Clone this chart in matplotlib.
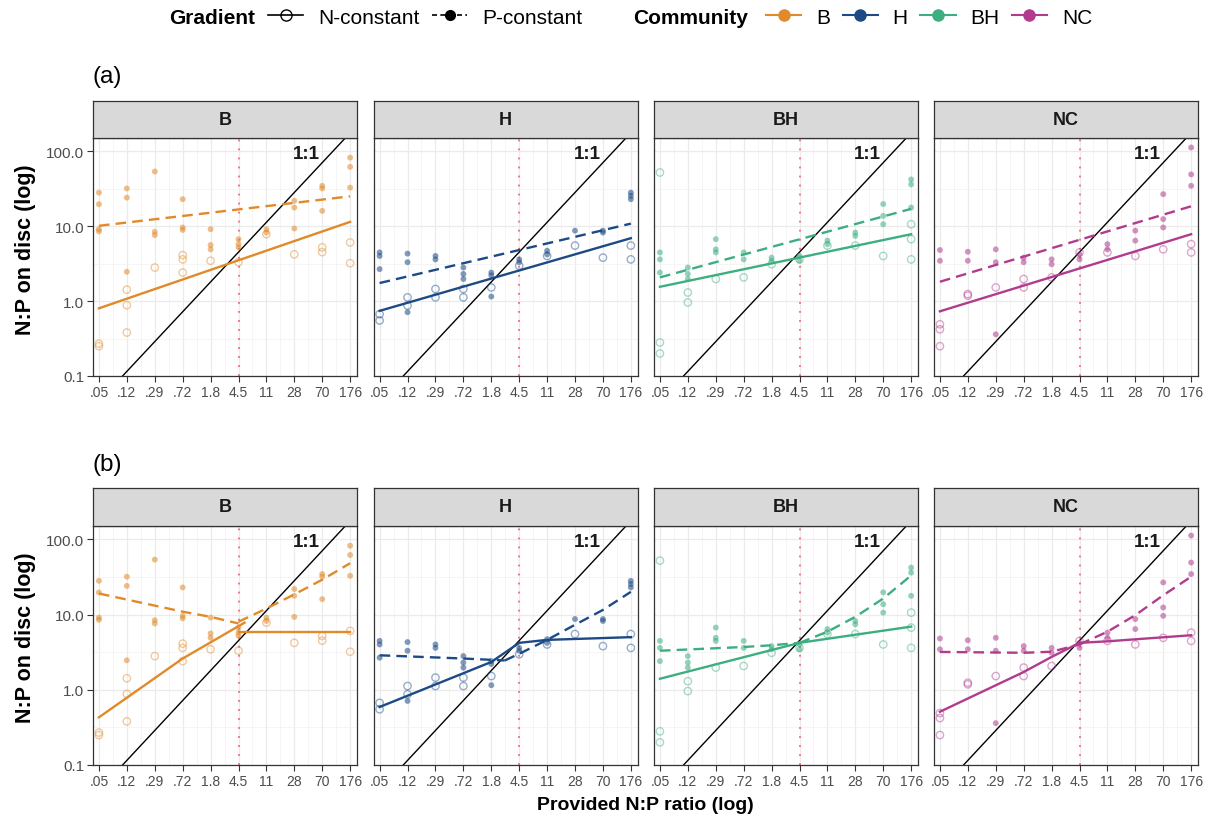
import numpy as np
import matplotlib.pyplot as plt
from matplotlib.lines import Line2D
from matplotlib.colors import to_rgba

plt.rcParams['font.family'] = ['Liberation Sans', 'DejaVu Sans']

# provided N:P ratio (gradient levels) and their tick labels
ratio = [0.046, 0.115, 0.288, 0.72, 1.8, 4.5, 11.25, 28.1, 70.3, 175.8]
ratio_labels = ['.05', '.12', '.29', '.72', '1.8', '4.5', '11', '28', '70', '176']

communities = ['B', 'H', 'BH', 'NC']
colors = ['#E08A2A', '#1C4A85', '#3DAE80', '#B13C8E']

# N:P on disc, replicates per gradient level
B_ncon = [[0.25, 0.27], [1.42, 0.88, 0.38], [2.8], [4.1, 3.6, 2.4], [3.45], [3.3],
          [7.8], [4.2], [5.2, 4.5], [6.05, 3.2]]
B_pcon = [[28, 19.6, 9.1, 8.5], [31.8, 24, 2.46], [53.6, 8.4, 7.6], [22.9, 9.6, 8.9],
          [9.1, 5.6, 4.9], [6.7, 5.75, 5.2], [9.1, 8.2], [21.8, 17.7, 9.3],
          [34.5, 31.8, 16], [82, 61.8, 32.7]]
H_ncon = [[0.67, 0.55], [1.12, 0.87], [1.45, 1.12], [1.45, 1.12], [1.52], [2.96],
          [4.0], [5.5], [3.8], [5.5, 3.6]]
H_pcon = [[4.46, 4.0, 2.67], [4.3, 3.3, 0.71], [4.0, 3.6], [2.8, 2.3, 1.97],
          [2.4, 2.2, 1.15], [3.6, 3.3], [4.7, 4.2], [8.7], [8.7, 8.2], [28, 25.4, 22.9]]
BH_ncon = [[52, 0.28, 0.2], [1.3, 0.96], [1.97], [2.07], [3.1], [3.6], [5.5], [5.5],
           [4.0], [10.6, 6.7, 3.6]]
BH_pcon = [[4.46, 3.6, 2.4], [2.8, 2.3, 1.97], [6.7, 4.9, 4.46], [4.46, 3.6],
           [3.8, 3.45], [4.0, 3.45], [6.4, 5.75], [8.2, 7.4], [19.7, 13.7, 10.6],
           [42, 36, 17.7]]
NC_ncon = [[0.49, 0.42, 0.25], [1.24, 1.18], [1.52], [1.97, 1.52], [2.07], [4.46],
           [4.46], [4.0], [4.9], [5.75, 4.46]]
NC_pcon = [[4.8, 3.45], [4.55, 3.45], [4.9, 3.3, 0.36], [3.8, 3.3], [3.6, 3.1],
           [4.2, 3.6], [5.75, 4.9], [8.7, 6.4], [26.7, 12.4, 9.6], [112, 49, 34.5]]
ncon_pts = [B_ncon, H_ncon, BH_ncon, NC_ncon]
pcon_pts = [B_pcon, H_pcon, BH_pcon, NC_pcon]

# (a) log-log linear fits: fitted N:P at lowest and highest ratio
fit_a_ncon = [(0.80, 11.4), (0.74, 6.9), (1.55, 7.8), (0.73, 7.8)]
fit_a_pcon = [(10.1, 25.0), (1.74, 10.8), (2.07, 17.0), (1.81, 18.4)]

# (b) segmented fits: list of segments, each (ratios, fitted N:P)
fit_b_ncon = [
    [([0.046, 0.72, 5.5], [0.43, 2.6, 7.8]), ([4.5, 175.8], [5.9, 5.9])],
    [([0.046, 1.8, 4.5], [0.59, 2.34, 4.2]), ([4.5, 11.25, 175.8], [4.2, 4.6, 5.0])],
    [([0.046, 4.5], [1.4, 4.2]), ([4.5, 175.8], [4.2, 6.9])],
    [([0.046, 0.72, 1.8, 4.5], [0.51, 1.72, 2.73, 4.2]), ([4.5, 11.25, 175.8], [4.2, 4.4, 5.3])],
]
fit_b_pcon = [
    [([0.046, 0.72, 1.8, 4.5], [19, 10.9, 9.3, 7.6]),
     ([4.5, 11.25, 28.1, 70.3, 175.8], [8.0, 12, 18.5, 29, 48])],
    [([0.046, 0.72, 2.8], [2.87, 2.6, 2.45]),
     ([2.8, 4.5, 11.25, 28.1, 70.3, 175.8], [2.45, 3.0, 4.6, 7.3, 11.5, 20])],
    [([0.046, 0.72, 1.8, 4.5], [3.3, 3.7, 3.9, 4.2]),
     ([4.5, 11.25, 28.1, 70.3, 175.8], [4.2, 5.9, 9.3, 16.3, 33])],
    [([0.046, 0.72, 1.8, 4.5], [3.18, 3.1, 3.2, 4.0]),
     ([4.5, 11.25, 28.1, 70.3, 175.8], [4.0, 5.9, 9.8, 18, 31.8])],
]

W, H = 1214, 820
fig = plt.figure(figsize=(W / 100, H / 100), dpi=100)


def box(left, top, width, height):
    return [left / W, 1 - (top + height) / H, width / W, height / H]


panel_left = [93.3, 374.0, 654.3, 934.3]
panel_w = 263.5
rows = [(102, 139, 238), (489, 527, 239)]  # strip top, panel top, panel height
dash = (4.5, 2.6)
lx = np.log10(ratio)
xlim = (10 ** (lx[0] - 0.08), 10 ** (lx[-1] + 0.095))
ylim = (0.1, 150)
xminor = 10 ** ((lx[:-1] + lx[1:]) / 2)

for r, (strip_top, ptop, ph) in enumerate(rows):
    for i, comm in enumerate(communities):
        col = colors[i]
        ax = fig.add_axes(box(panel_left[i], ptop, panel_w, ph))
        ax.set_xscale('log')
        ax.set_yscale('log')
        ax.set_xlim(xlim)
        ax.set_ylim(ylim)

        # grid
        for v in ratio:
            ax.axvline(v, color='#EBEBEB', lw=0.9, zorder=0)
        for v in xminor:
            ax.axvline(v, color='#F2F2F2', lw=0.5, zorder=0)
        for v in [0.1, 1, 10, 100]:
            ax.axhline(v, color='#EBEBEB', lw=0.9, zorder=0)
        for v in [0.316, 3.16, 31.6]:
            ax.axhline(v, color='#F2F2F2', lw=0.5, zorder=0)

        ax.axvline(4.5, color='#F06A7A', lw=1.3, ls=(0, (1, 4)), zorder=1)
        ax.plot(xlim, xlim, color='black', lw=1.0, zorder=2)
        ax.text(42, 93, '1:1', ha='center', va='center', fontsize=13.5,
                fontweight='bold', color='#1A1A1A', zorder=5)

        # points
        for k, vals in enumerate(ncon_pts[i]):
            ax.scatter([ratio[k]] * len(vals), vals, s=28, facecolors='none',
                       edgecolors=[to_rgba(col, 0.45)], linewidths=1.0, zorder=3)
        for k, vals in enumerate(pcon_pts[i]):
            ax.scatter([ratio[k]] * len(vals), vals, s=18, c=[to_rgba(col, 0.55)],
                       edgecolors='none', zorder=3)

        # fitted lines
        if r == 0:
            ax.plot([ratio[0], ratio[-1]], fit_a_ncon[i], color=col, lw=1.7, zorder=4)
            ax.plot([ratio[0], ratio[-1]], fit_a_pcon[i], color=col, lw=1.7,
                    dashes=dash, zorder=4)
        else:
            for xs, ys in fit_b_ncon[i]:
                ax.plot(xs, ys, color=col, lw=1.7, zorder=4)
            for xs, ys in fit_b_pcon[i]:
                ax.plot(xs, ys, color=col, lw=1.7, dashes=dash, zorder=4)

        ax.xaxis.set_minor_locator(plt.NullLocator())
        ax.yaxis.set_minor_locator(plt.NullLocator())
        ax.set_xticks(ratio)
        ax.set_xticklabels(ratio_labels)
        ax.set_yticks([0.1, 1, 10, 100])
        if i == 0:
            ax.set_yticklabels(['0.1', '1.0', '10.0', '100.0'])
        else:
            ax.set_yticklabels([])
            ax.tick_params(axis='y', length=0)
        ax.tick_params(axis='x', labelsize=10, colors='#333333', labelcolor='#4D4D4D',
                       length=4, width=0.8, pad=2.5)
        ax.tick_params(axis='y', labelsize=11, colors='#333333', labelcolor='#4D4D4D',
                       width=0.8, pad=2.5)
        if i == 0:
            ax.tick_params(axis='y', length=4)
        for s in ax.spines.values():
            s.set_color('#333333')
            s.set_linewidth(0.9)

        # strip
        sax = fig.add_axes(box(panel_left[i], strip_top, panel_w, ptop - strip_top))
        sax.set_facecolor('#D9D9D9')
        sax.set_xticks([])
        sax.set_yticks([])
        for s in sax.spines.values():
            s.set_color('#333333')
            s.set_linewidth(0.9)
        sax.text(0.5, 0.5, comm, ha='center', va='center', fontsize=13,
                 fontweight='bold', color='#1A1A1A', transform=sax.transAxes)

# panel tags and axis titles
fig.text(93 / W, 1 - 77 / H, '(a)', fontsize=17.5, va='center', ha='left')
fig.text(93 / W, 1 - 465 / H, '(b)', fontsize=17.5, va='center', ha='left')
fig.text(26 / W, 1 - 250 / H, 'N:P on disc (log)', rotation=90, fontsize=15.5,
         fontweight='bold', ha='center', va='center')
fig.text(26 / W, 1 - 638 / H, 'N:P on disc (log)', rotation=90, fontsize=15.5,
         fontweight='bold', ha='center', va='center')
fig.text(645 / W, 1 - 806 / H, 'Provided N:P ratio (log)', fontsize=14,
         fontweight='bold', ha='center', va='center')

# legends
ly = 1 - 18 / H
fig.text(169 / W, ly, 'Gradient', fontsize=15, fontweight='bold', va='center', ha='left')
grad_handles = [
    Line2D([], [], color='black', lw=1.2, marker='o', markerfacecolor='none',
           markeredgecolor='black', markersize=8),
    Line2D([], [], color='black', lw=1.2, dashes=(3, 2), marker='o', markersize=7),
]
fig.legend(grad_handles, ['N-constant', 'P-constant'], loc='center left',
           bbox_to_anchor=(268 / W, ly), ncol=2, frameon=False, fontsize=15,
           handlelength=1.7, handletextpad=0.7, columnspacing=0.6, borderpad=0,
           borderaxespad=0)
fig.text(633 / W, ly, 'Community', fontsize=15, fontweight='bold', va='center', ha='left')
comm_handles = [Line2D([], [], color=c, lw=1.5, marker='o', markersize=8) for c in colors]
fig.legend(comm_handles, communities, loc='center left', bbox_to_anchor=(766 / W, ly),
           ncol=4, frameon=False, fontsize=15, handlelength=1.7, handletextpad=0.7,
           columnspacing=0.6, borderpad=0, borderaxespad=0)

fig.savefig('out.png', dpi=100)
